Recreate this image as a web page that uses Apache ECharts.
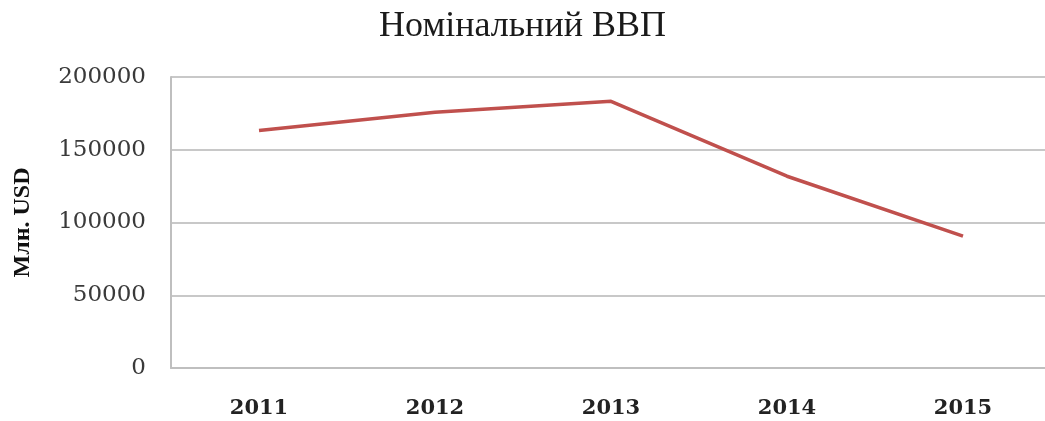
<!DOCTYPE html>
<html>
<head>
<meta charset="utf-8">
<script src="https://cdn.jsdelivr.net/npm/echarts@6/dist/echarts.min.js"></script>
<style>
html,body{margin:0;padding:0;background:#fff;}
#chart{width:1045px;height:421px;}
</style>
</head>
<body>
<div id="chart"></div>
<script>
const titleText = 'Номінальний ВВП';
const yAxisName = 'Млн. USD';
const years = ['2011', '2012', '2013', '2014', '2015'];
const gdp = [163160, 175781, 183310, 131805, 90615];

const chart = echarts.init(document.getElementById('chart'));
chart.setOption({
  backgroundColor: '#ffffff',
  animation: false,
  title: {
    text: titleText,
    left: 'center',
    top: 4,
    textStyle: {
      fontFamily: 'Liberation Serif',
      fontSize: 36,
      fontWeight: 'normal',
      color: '#1a1a1a'
    }
  },
  grid: {
    left: 171,
    width: 880,
    top: 77,
    bottom: 53,
    containLabel: false,
    outerBoundsMode: 'none'
  },
  xAxis: {
    type: 'category',
    data: years,
    boundaryGap: true,
    axisLine: { show: true, lineStyle: { color: '#bfbfbf', width: 2 } },
    axisTick: { show: false },
    axisLabel: {
      margin: 30,
      fontFamily: 'DejaVu Serif',
      fontSize: 21,
      fontWeight: 'bold',
      color: '#222222'
    },
    splitLine: { show: false }
  },
  yAxis: {
    type: 'value',
    min: 0,
    max: 200000,
    interval: 50000,
    name: yAxisName,
    nameLocation: 'middle',
    nameRotate: 90,
    nameGap: 136,
    nameTextStyle: {
      fontFamily: 'Liberation Serif',
      fontSize: 24,
      fontWeight: 'bold',
      color: '#111111'
    },
    axisLine: { show: true, lineStyle: { color: '#bfbfbf', width: 2 } },
    axisTick: { show: false },
    axisLabel: {
      margin: 25,
      fontFamily: 'DejaVu Serif',
      fontSize: 23,
      color: '#3a3a3a',
      formatter: function (v) { return String(v); }
    },
    splitLine: { show: true, lineStyle: { color: '#c8c8c8', width: 2 } }
  },
  series: [{
    type: 'line',
    data: gdp,
    symbol: 'none',
    lineStyle: { color: '#c0504d', width: 3.5 },
    itemStyle: { color: '#c0504d' }
  }]
});
</script>
</body>
</html>
